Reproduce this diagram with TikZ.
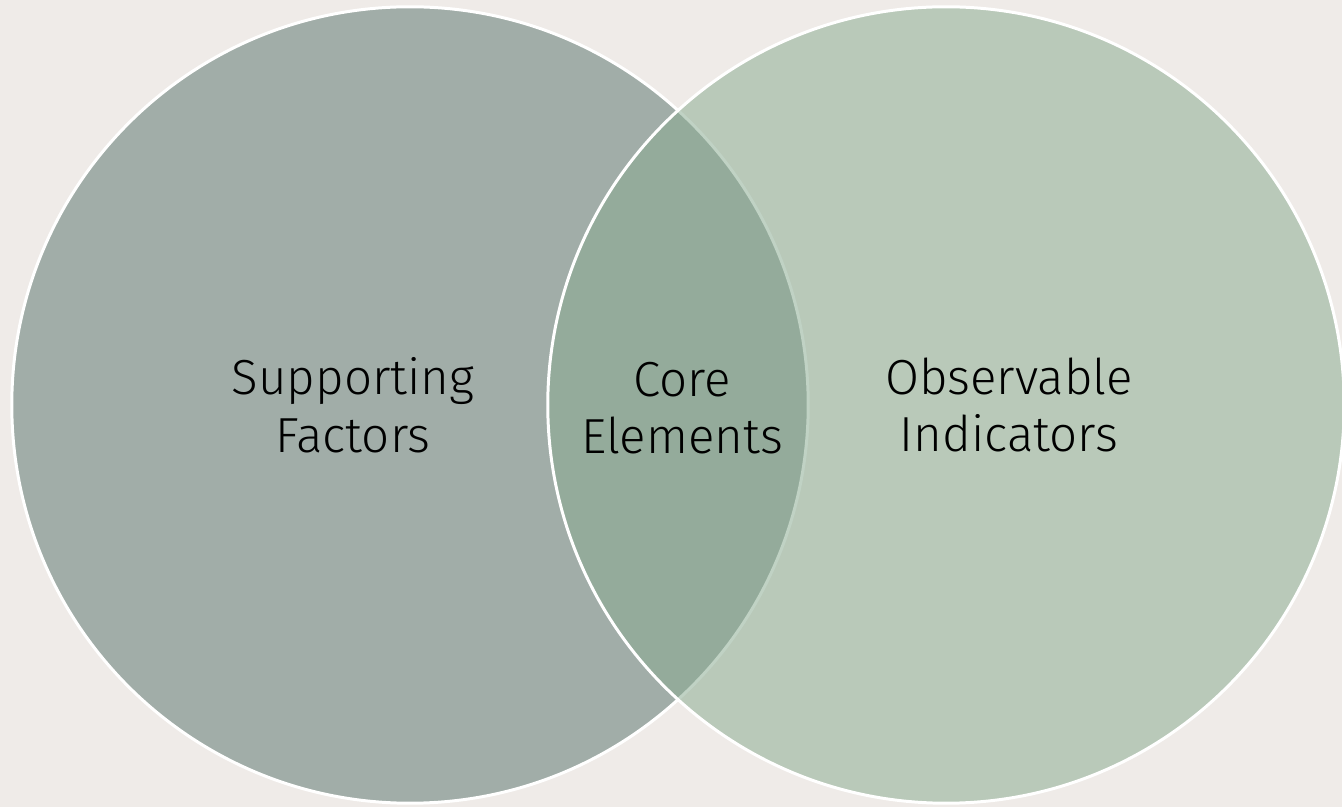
\documentclass[tikz,border=0pt]{standalone}
\usepackage{fontspec}
\setmainfont{Fira Sans}[UprightFont=* Light]
\usetikzlibrary{positioning}
\definecolor{bgcol}{RGB}{239,235,232}
\definecolor{leftcol}{RGB}{161,173,168}
\definecolor{rightcol}{RGB}{137,171,145}
\tikzset{
  set/.style={circle, inner sep=0pt, outer sep=0pt, minimum size=7.96cm, draw=white, line width=0.85pt},
  setlabel/.style={align=center, text=black, font=\fontsize{14}{16.4}\selectfont}
}

\begin{document}
\begin{tikzpicture}[x=0.01cm,y=-0.01cm]
    \fill[bgcol] (0,0) rectangle (1342,807);
    \useasboundingbox (0,0) rectangle (1342,807);
    \node[set, fill=leftcol] (support) at (410,405) {};
    \node[set, fill=rightcol, fill opacity=0.53] (observe) at (946,405) {};
    \node[setlabel] (supportlabel) at (353,405) {Supporting\\Factors};
    \node[setlabel] (corelabel) at (682,408) {Core\\Elements};
    \node[setlabel] (observelabel) at (1009,405) {Observable\\Indicators};
\end{tikzpicture}
\end{document}
